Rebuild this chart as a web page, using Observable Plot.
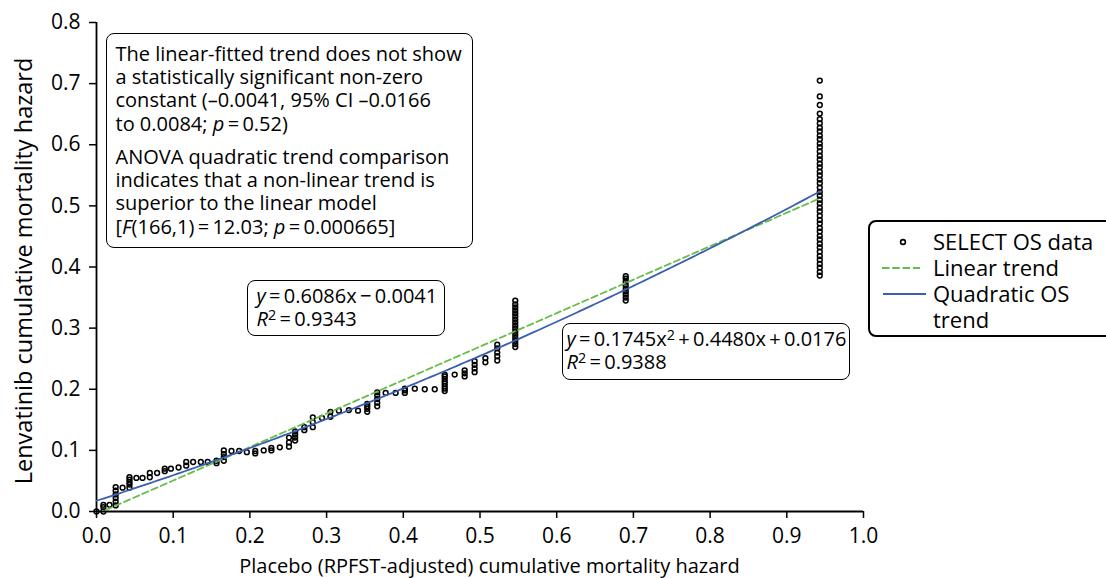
<!DOCTYPE html>
<html>
<head>
<meta charset="utf-8">
<script src="https://cdn.jsdelivr.net/npm/d3@7"></script>
<script src="https://cdn.jsdelivr.net/npm/@observablehq/plot@0.6"></script>
<style>
  html, body { margin: 0; padding: 0; background: #fff; }
  #wrap { position: relative; width: 1106px; height: 578px; overflow: hidden; font-family: 'Open Sans', sans-serif; color: #000; }
  .box { position: absolute; box-sizing: border-box; border: 1.5px solid #000; border-radius: 8px; background: #fff; font-size: 20px; line-height: 23.3px; white-space: nowrap; }
  .box p { margin: 0; }
  .sup { font-size: 0.72em; position: relative; top: -0.45em; line-height: 0; }
  #legend { position: absolute; left: 868px; top: 220px; width: 270px; height: 117px; box-sizing: border-box; border: 2px solid #000; border-radius: 8px; background: #fff; font-size: 22px; }
  #legend svg { position: absolute; left: 0; top: 0; }
  #legend .txt { position: absolute; left: 63px; top: 6.4px; line-height: 26px; white-space: nowrap; }
</style>
</head>
<body>
<div id="wrap"></div>
<script>
// ---------- data ----------
const groupX = [0.000, 0.009, 0.017, 0.025, 0.034, 0.043, 0.052, 0.060, 0.0695, 0.079,
  0.089, 0.097, 0.107, 0.117, 0.126, 0.136, 0.145, 0.1565, 0.166, 0.176,
  0.186, 0.196, 0.207, 0.218, 0.228, 0.239, 0.251, 0.259, 0.271, 0.282,
  0.294, 0.305, 0.316, 0.329, 0.341, 0.353, 0.366, 0.377, 0.390, 0.402,
  0.415, 0.428, 0.441, 0.454, 0.467, 0.480, 0.493, 0.507, 0.5225, 0.546,
  0.690, 0.943];
const groupY = [
  [0.000],
  [0.000, 0.007, 0.011],
  [0.011],
  [0.010, 0.016, 0.022, 0.028, 0.034, 0.040],
  [0.039],
  [0.039, 0.044, 0.048, 0.052, 0.056],
  [0.055],
  [0.055],
  [0.056, 0.063],
  [0.063],
  [0.066, 0.070],
  [0.070],
  [0.072],
  [0.075, 0.081],
  [0.081],
  [0.081],
  [0.081],
  [0.079, 0.083],
  [0.083, 0.089, 0.094, 0.100],
  [0.099],
  [0.099],
  [0.097],
  [0.095, 0.099],
  [0.100],
  [0.100, 0.104],
  [0.105],
  [0.106, 0.113, 0.121],
  [0.116, 0.121, 0.126, 0.131],
  [0.133, 0.138],
  [0.138, 0.146, 0.154],
  [0.153],
  [0.155, 0.163],
  [0.165],
  [0.166],
  [0.165],
  [0.163, 0.168, 0.172, 0.176],
  [0.172, 0.178, 0.184, 0.190, 0.195],
  [0.194],
  [0.194],
  [0.194, 0.198, 0.201],
  [0.201],
  [0.200],
  [0.200],
  [0.197, 0.201, 0.205, 0.209, 0.213, 0.217, 0.221, 0.224],
  [0.224],
  [0.221, 0.226, 0.231],
  [0.228, 0.234, 0.240, 0.246],
  [0.244, 0.251],
  [0.247, 0.254, 0.260, 0.267, 0.273],
  [0.269, 0.274, 0.279, 0.284, 0.289, 0.294, 0.299, 0.304, 0.309, 0.314, 0.319, 0.324, 0.329, 0.334, 0.339, 0.345],
  [0.345, 0.350, 0.355, 0.360, 0.365, 0.370, 0.376, 0.381, 0.385],
  [0.386, 0.392, 0.399, 0.405, 0.412, 0.418, 0.425, 0.432, 0.438, 0.445, 0.451, 0.458, 0.464, 0.471,
   0.477, 0.484, 0.491, 0.497, 0.504, 0.510, 0.517, 0.523, 0.530, 0.537, 0.543, 0.550, 0.556, 0.563,
   0.569, 0.576, 0.582, 0.589, 0.596, 0.602, 0.609, 0.615, 0.622, 0.628, 0.635, 0.642, 0.651,
   0.665, 0.679, 0.705]
];
const linearCoef = [0.6086, -0.0041];          // slope, intercept
const quadCoef = [0.1745, 0.4480, 0.0176];     // a, b, c
const fitRange = [0, 0.943];                   // drawn range on the x axis
const fitXFactor = 0.9;                        // fitted x = 0.9 × plotted x
const xTicks = [0, 0.1, 0.2, 0.3, 0.4, 0.5, 0.6, 0.7, 0.8, 0.9, 1.0];
const yTicks = [0, 0.1, 0.2, 0.3, 0.4, 0.5, 0.6, 0.7, 0.8];
const xTitle = "Placebo (RPFST-adjusted) cumulative mortality hazard";
const yTitle = "Lenvatinib cumulative mortality hazard";
const legendLabels = ["SELECT OS data", "Linear trend", "Quadratic OS", "trend"];

const GREEN = "#67bd49";
const BLUE = "#3a5fb0";

// ---------- build ----------
const points = groupX.flatMap((x, i) => groupY[i].map(y => ({x, y})));
const sampleX = d3.range(fitRange[0], fitRange[1], 0.005).concat([fitRange[1]]);
const linearCurve = sampleX.map(x => { const u = x * fitXFactor; return {x, y: linearCoef[0] * u + linearCoef[1]}; });
const quadCurve = sampleX.map(x => { const u = x * fitXFactor; return {x, y: quadCoef[0] * u * u + quadCoef[1] * u + quadCoef[2]}; });

const chart = Plot.plot({
  width: 1106,
  height: 578,
  marginLeft: 96,
  marginRight: 243,
  marginTop: 22,
  marginBottom: 67,
  style: {fontFamily: "'Open Sans', sans-serif", fontSize: "21px", color: "#000", background: "transparent", overflow: "visible"},
  x: {domain: [0, 1]},
  y: {domain: [0, 0.8]},
  marks: [
    Plot.axisX({ticks: xTicks, tickFormat: d3.format(".1f"), tickSize: 7, tickPadding: 10, label: null, strokeWidth: 1.5, fontSize: 21}),
    Plot.axisY({ticks: yTicks, tickFormat: d3.format(".1f"), tickSize: 7, tickPadding: 9, label: null, strokeWidth: 1.5, fontSize: 21}),
    Plot.ruleX([0], {strokeWidth: 1.8}),
    Plot.ruleY([0], {strokeWidth: 1.8}),
    Plot.dot(points, {x: "x", y: "y", r: 2.4, stroke: "#000", strokeWidth: 1.5, fill: "none"}),
    Plot.line(linearCurve, {x: "x", y: "y", stroke: GREEN, strokeWidth: 1.8, strokeDasharray: "6.5,3.5", clip: true}),
    Plot.line(quadCurve, {x: "x", y: "y", stroke: BLUE, strokeWidth: 1.8, clip: true}),
    Plot.text([yTitle], {frameAnchor: "left", dx: -72, dy: 4, rotate: -90, textAnchor: "middle", lineAnchor: "middle", fontSize: 23.5, fill: "#000"}),
    Plot.text([xTitle], {frameAnchor: "bottom", dy: 55, dx: 9.5, textAnchor: "middle", lineAnchor: "middle", fontSize: 20, fill: "#000"})
  ]
});

const wrap = document.getElementById("wrap");
wrap.appendChild(chart);

const fmt = v => v.toFixed(4);
const ts = "\u2009";
const box1 = document.createElement("div");
box1.className = "box";
Object.assign(box1.style, {left: "106px", top: "33px", width: "367px", height: "215px", padding: "7.7px 8.5px"});
box1.innerHTML =
  "<p>The linear-fitted trend does not show<br>a statistically significant non-zero<br>constant (\u20130.0041, 95% CI \u20130.0166<br>to 0.0084; <i>p</i>" + ts + "=" + ts + "0.52)</p>" +
  "<p style='margin-top:10px'>ANOVA quadratic trend comparison<br>indicates that a non-linear trend is<br>superior to the linear model<br>[<i>F</i>(166,1)" + ts + "=" + ts + "12.03; <i>p</i>" + ts + "=" + ts + "0.000665]</p>";
wrap.appendChild(box1);

const box2 = document.createElement("div");
box2.className = "box";
Object.assign(box2.style, {left: "247px", top: "280px", width: "198px", height: "56px", padding: "3px 8.5px"});
box2.innerHTML = "<i>y</i>" + ts + "=" + ts + fmt(linearCoef[0]) + "x" + ts + "\u2212" + ts + fmt(Math.abs(linearCoef[1])) +
  "<br><i>R</i><span class='sup'>2</span>" + ts + "=" + ts + "0.9343";
wrap.appendChild(box2);

const box3 = document.createElement("div");
box3.className = "box";
Object.assign(box3.style, {left: "562px", top: "323px", width: "288px", height: "57px", padding: "3px 3.5px"});
box3.innerHTML = "<i>y</i>" + ts + "=" + ts + fmt(quadCoef[0]) + "x<span class='sup'>2</span>" + ts + "+" + ts + fmt(quadCoef[1]) + "x" + ts + "+" + ts + fmt(quadCoef[2]) +
  "<br><i>R</i><span class='sup'>2</span>" + ts + "=" + ts + "0.9388";
wrap.appendChild(box3);

const legend = document.createElement("div");
legend.id = "legend";
legend.innerHTML =
  "<svg width='70' height='110'>" +
  "<circle cx='33' cy='20' r='2.4' fill='none' stroke='#000' stroke-width='1.6'></circle>" +
  "<line x1='12' y1='46' x2='50' y2='46' stroke='" + GREEN + "' stroke-width='2' stroke-dasharray='7.5,2.8'></line>" +
  "<line x1='13' y1='72' x2='56' y2='72' stroke='" + BLUE + "' stroke-width='2'></line>" +
  "</svg>" +
  "<div class='txt'>" + legendLabels.join("<br>") + "</div>";
wrap.appendChild(legend);
</script>
</body>
</html>
